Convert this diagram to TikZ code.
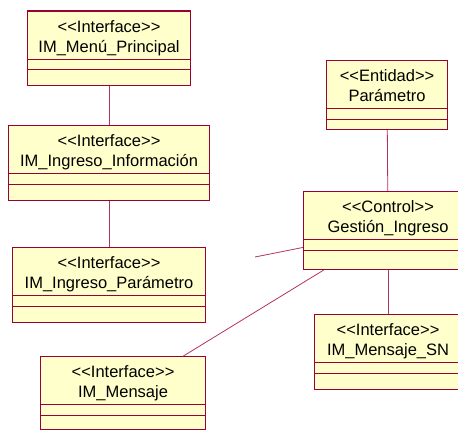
\documentclass[tikz,border=0pt]{standalone}
\usepackage{fontspec}
\setmainfont{Liberation Sans}
\usepackage{xcolor}
\usetikzlibrary{positioning}

\definecolor{borde}{RGB}{153,0,51}
\definecolor{relleno}{RGB}{255,255,204}
\definecolor{linea}{RGB}{180,50,95}

\tikzset{
	clase/.style={rectangle, draw=borde, fill=relleno, line width=1.1pt, anchor=north west, inner sep=0pt},
	rotulo/.style={align=center, inner sep=0pt, font=\fontsize{16.5}{20}\selectfont},
	division/.style={draw=borde, line width=0.8pt},
	enlace/.style={draw=linea, line width=0.8pt},
}

\begin{document}
\begin{tikzpicture}[x=1pt, y=-1pt]
				\clip (0,0) rectangle (458,430);
				% clases
				\node[clase, minimum width=163pt, minimum height=74.5pt] (menu)    at (27,10.5) {};
				\node[clase, minimum width=201pt, minimum height=75pt]   (info)    at (8,125)   {};
				\node[clase, minimum width=193pt, minimum height=75pt]   (ingpar)  at (12,247)  {};
				\node[clase, minimum width=121pt, minimum height=69pt]   (param)   at (326,60)  {};
				\node[clase, minimum width=169pt, minimum height=78pt]   (gestion) at (303,191) {};
				\node[clase, minimum width=165pt, minimum height=73pt]   (mensaje) at (40,356)  {};
				\node[clase, minimum width=147pt, minimum height=75pt]   (sn)      at (314,314) {};
				% nombres
				\node[rotulo, below=9.5pt of menu.north]    (menuT)    {<{}<Interface>{}>\\IM\_Menú\_Principal};
				\node[rotulo, below=9.5pt of info.north]    (infoT)    {<{}<Interface>{}>\\IM\_Ingreso\_Información};
				\node[rotulo, below=9.5pt of ingpar.north]  (ingparT)  {<{}<Interface>{}>\\IM\_Ingreso\_Parámetro};
				\node[rotulo, below=9.5pt of param.north]   (paramT)   {<{}<Entidad>{}>\\Parámetro};
				\node[rotulo, below=9.5pt of gestion.north] (gestionT) {<{}<Control>{}>\\Gestión\_Ingreso};
				\node[rotulo, below=9.5pt of mensaje.north] (mensajeT) {<{}<Interface>{}>\\IM\_Mensaje};
				\node[rotulo, below=9.5pt of sn.north]      (snT)      {<{}<Interface>{}>\\IM\_Mensaje\_SN};
				% compartimentos
				\draw[division] ([yshift=-48.5pt]menu.north west)    -- ([yshift=-48.5pt]menu.north east);
				\draw[division] ([yshift=-59pt]menu.north west)      -- ([yshift=-59pt]menu.north east);
				\draw[division] ([yshift=-48.5pt]info.north west)    -- ([yshift=-48.5pt]info.north east);
				\draw[division] ([yshift=-59pt]info.north west)      -- ([yshift=-59pt]info.north east);
				\draw[division] ([yshift=-48.5pt]ingpar.north west)  -- ([yshift=-48.5pt]ingpar.north east);
				\draw[division] ([yshift=-59pt]ingpar.north west)    -- ([yshift=-59pt]ingpar.north east);
				\draw[division] ([yshift=-48.5pt]param.north west)   -- ([yshift=-48.5pt]param.north east);
				\draw[division] ([yshift=-59pt]param.north west)     -- ([yshift=-59pt]param.north east);
				\draw[division] ([yshift=-48.5pt]gestion.north west) -- ([yshift=-48.5pt]gestion.north east);
				\draw[division] ([yshift=-59pt]gestion.north west)   -- ([yshift=-59pt]gestion.north east);
				\draw[division] ([yshift=-48.5pt]mensaje.north west) -- ([yshift=-48.5pt]mensaje.north east);
				\draw[division] ([yshift=-59pt]mensaje.north west)   -- ([yshift=-59pt]mensaje.north east);
				\draw[division] ([yshift=-48.5pt]sn.north west)      -- ([yshift=-48.5pt]sn.north east);
				\draw[division] ([yshift=-59pt]sn.north west)        -- ([yshift=-59pt]sn.north east);
				% asociaciones
				\coordinate (suelto) at (255,257);
				\draw[enlace] (menu) -- (info);
				\draw[enlace] (info) -- (ingpar);
				\draw[enlace] (param) -- (gestion);
				\draw[enlace] (gestion) -- (sn);
				\draw[enlace] (gestion) -- (mensaje);
				\draw[enlace] (suelto) -- (gestion);
\end{tikzpicture}
\end{document}
